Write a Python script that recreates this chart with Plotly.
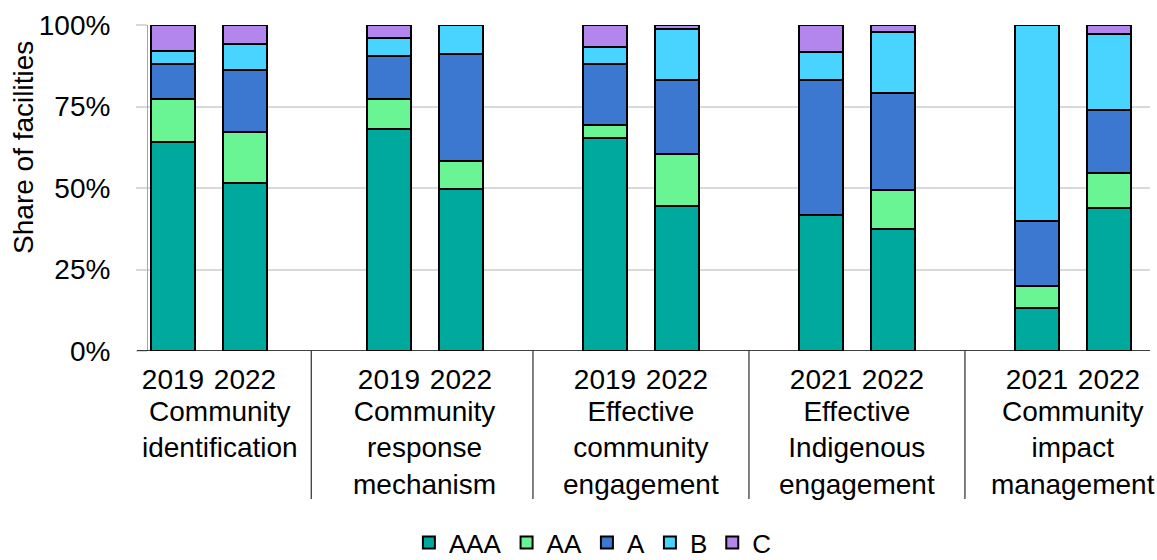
import plotly.graph_objects as go

# slot positions on the category axis (blank slot between groups)
positions = [0, 1, 3, 4, 6, 7, 9, 10, 12, 13]
years = ['2019', '2022', '2019', '2022', '2019', '2022', '2021', '2022', '2021', '2022']
groups = ['Community<br>identification', 'Community<br>response<br>mechanism',
          'Effective<br>community<br>engagement', 'Effective<br>Indigenous<br>engagement',
          'Community<br>impact<br>management']
group_centers = [0.5, 3.5, 6.5, 9.5, 12.5]
separators = [1.92, 5, 8, 11]
y_ticks = [0, 25, 50, 75, 100]
y_labels = ['0%', '25%', '50%', '75%', '100%']

aaa = [64.0, 51.4, 68.0, 49.6, 65.3, 44.4, 41.7, 37.5, 13.2, 43.9]
aa = [13.3, 15.8, 9.3, 8.6, 4.0, 15.9, 0.0, 11.8, 6.6, 10.8]
a = [10.7, 19.0, 13.3, 32.9, 18.7, 22.8, 41.4, 29.9, 20.2, 19.3]
b = [4.0, 8.0, 5.3, 8.9, 5.3, 15.8, 8.5, 18.7, 60.0, 23.1]
c = [8.0, 5.8, 4.1, 0.0, 6.7, 1.1, 8.4, 2.1, 0.0, 2.9]

series = [('AAA', aaa, '#00A99D'), ('AA', aa, '#6AF594'), ('A', a, '#3C78D0'),
          ('B', b, '#48D4FF'), ('C', c, '#B286EC')]

FONT = 'Liberation Sans, Arial, sans-serif'

fig = go.Figure()
for name, vals, color in series:
    fig.add_trace(go.Bar(
        x=positions,
        y=vals,
        name=name,
        width=0.62,
        marker=dict(color=color, line=dict(color='#000000', width=2))
    ))

# group labels
for label, xc in zip(groups, group_centers):
    fig.add_annotation(
        x=xc, y=-0.133, xref='x', yref='paper',
        text=label, showarrow=False, yanchor='top',
        xshift=11 if xc == 0.5 else 0,
        font=dict(size=28, color='#000000', family=FONT)
    )

# y axis title (sits above the middle, as in the original)
fig.add_annotation(
    x=-0.1238, y=0.626, xref='paper', yref='paper',
    text='Share of facilities', textangle=-90, showarrow=False,
    xanchor='center', yanchor='middle',
    font=dict(size=28, color='#000000', family=FONT)
)

# group separators
for sx in separators:
    fig.add_shape(type='line', x0=sx, x1=sx, xref='x', yref='paper',
                  y0=0, y1=-0.454, line=dict(color='#000000', width=1))

# baseline extended past the y axis like the original
fig.add_shape(type='line', xref='paper', yref='y', x0=-11 / 1002, x1=1,
              y0=0, y1=0, line=dict(color='#000000', width=1.5))

fig.update_layout(
    barmode='stack',
    width=1157,
    height=560,
    autosize=False,
    margin=dict(l=148, r=7, t=25, b=209, autoexpand=False),
    plot_bgcolor='white',
    paper_bgcolor='white',
    font=dict(family=FONT, size=28, color='#000000'),
    showlegend=True,
    legend=dict(
        orientation='h', x=0.444, xanchor='center',
        y=-0.588, yanchor='middle', font=dict(size=26),
        traceorder='normal', itemwidth=30
    ),
    xaxis=dict(
        range=[-0.347, 13.57],
        tickmode='array',
        tickvals=positions,
        ticktext=years,
        tickangle=0,
        showgrid=False,
        zeroline=False,
        showline=False,
        ticks='',
        ticklabelstandoff=9,
        tickfont=dict(size=28),
    ),
    yaxis=dict(
        range=[0, 100],
        tickmode='array',
        tickvals=y_ticks,
        ticktext=y_labels,
        showgrid=True,
        gridcolor='#D9D9D9',
        gridwidth=2,
        zeroline=False,
        showline=True,
        linecolor='#A6A6A6',
        linewidth=1,
        ticks='outside',
        ticklen=11,
        tickcolor='#D9D9D9',
        tickwidth=2,
        ticklabelstandoff=20,
        tickfont=dict(size=28),
    ),
)

fig.write_html(
    'out.html',
    config={'displayModeBar': False},
    post_script="document.body.style.margin='0';document.body.style.overflow='hidden';"
)
